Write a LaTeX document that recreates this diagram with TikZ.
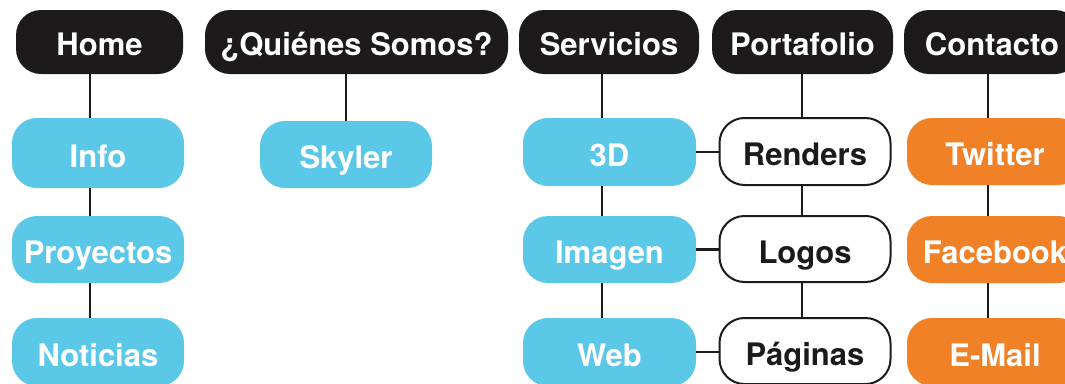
\documentclass[tikz,border=0pt]{standalone}
\usepackage{fontspec}
\setmainfont{TeX Gyre Heros}
\definecolor{ink}{HTML}{1D1A1B}
\definecolor{sky}{HTML}{5CC8E8}
\definecolor{tangerine}{HTML}{F18127}
\begin{document}
\begin{tikzpicture}[x=1pt,y=-1pt,
  box/.style={rounded corners=25pt, inner sep=0pt, minimum height=67pt,
    text height=28pt, text depth=0pt,
    font=\fontsize{31}{36}\selectfont\bfseries},
  header/.style={box, fill=ink, text=white, minimum height=64pt, text height=26pt},
  bluebox/.style={box, fill=sky, text=white, minimum width=172pt},
  whitebox/.style={box, draw=ink, line width=2pt, fill=white, text=ink, minimum width=171pt},
  orangebox/.style={box, fill=tangerine, text=white, minimum width=176pt},
  link/.style={draw=ink, line width=2.4pt}]
\useasboundingbox (0,0) rectangle (1065,383);
\clip (0,0) rectangle (1065,383);
\fill[white] (0,0) rectangle (1065,383);

% column guides for the vertical connectors
\coordinate (cHome) at (90,0);
\coordinate (cQuien) at (346,0);
\coordinate (cServ) at (602,0);
\coordinate (cPort) at (802,0);
\coordinate (cCont) at (988,0);

% top-level menu
\node[header, minimum width=167pt] (home) at (99.5,42) {Home};
\node[header, minimum width=303pt] (quienes) at (356.5,42) {¿Quiénes Somos?};
\node[header, minimum width=180pt] (servicios) at (609,42) {Servicios};
\node[header, minimum width=181pt] (portafolio) at (802.5,42) {Portafolio};
\node[header, minimum width=176pt] (contacto) at (992,42) {Contacto};

% Home
\node[bluebox, minimum height=70pt] (info) at (98,153) {Info};
\node[bluebox] (proyectos) at (98,249.5) {Proyectos};
\node[bluebox, minimum height=68pt] (noticias) at (98,352) {Noticias};

% Quienes somos
\node[bluebox] (skyler) at (346,154.5) {Skyler};

% Servicios
\node[bluebox, minimum width=173pt, minimum height=68pt] (tresd) at (609.5,152) {3D};
\node[bluebox, minimum width=173pt] (imagen) at (609.5,249.5) {Imagen};
\node[bluebox, minimum width=173pt, minimum height=68pt] (web) at (609.5,352) {Web};

% Portafolio
\node[whitebox, minimum height=67pt] (renders) at (805,151.5) {Renders};
\node[whitebox, minimum height=66pt] (logos) at (805,249) {Logos};
\node[whitebox, minimum height=66pt] (paginas) at (805,351) {Páginas};

% Contacto
\node[orangebox, minimum height=67pt] (twitter) at (995,151.5) {Twitter};
\node[orangebox] (facebook) at (995,249.5) {Facebook};
\node[orangebox, minimum height=68pt] (email) at (995,352) {E-Mail};

% vertical connectors
\path[link] (home.south -| cHome) -- (info.north -| cHome);
\path[link] (info.south -| cHome) -- (proyectos.north -| cHome);
\path[link] (proyectos.south -| cHome) -- (noticias.north -| cHome);
\path[link] (quienes.south -| cQuien) -- (skyler.north -| cQuien);
\path[link] (servicios.south -| cServ) -- (tresd.north -| cServ);
\path[link] (tresd.south -| cServ) -- (imagen.north -| cServ);
\path[link] (imagen.south -| cServ) -- (web.north -| cServ);
\path[link] (portafolio.south -| cPort) -- (renders.north -| cPort);
\path[link] (renders.south -| cPort) -- (logos.north -| cPort);
\path[link] (logos.south -| cPort) -- (paginas.north -| cPort);
\path[link] (contacto.south -| cCont) -- (twitter.north -| cCont);
\path[link] (twitter.south -| cCont) -- (facebook.north -| cCont);
\path[link] (facebook.south -| cCont) -- (email.north -| cCont);

% horizontal connectors
\path[link] (tresd.east) -- (tresd.east -| renders.west);
\path[link] (imagen.east) -- (imagen.east -| logos.west);
\path[link] (web.east) -- (web.east -| paginas.west);
\end{tikzpicture}
\end{document}
